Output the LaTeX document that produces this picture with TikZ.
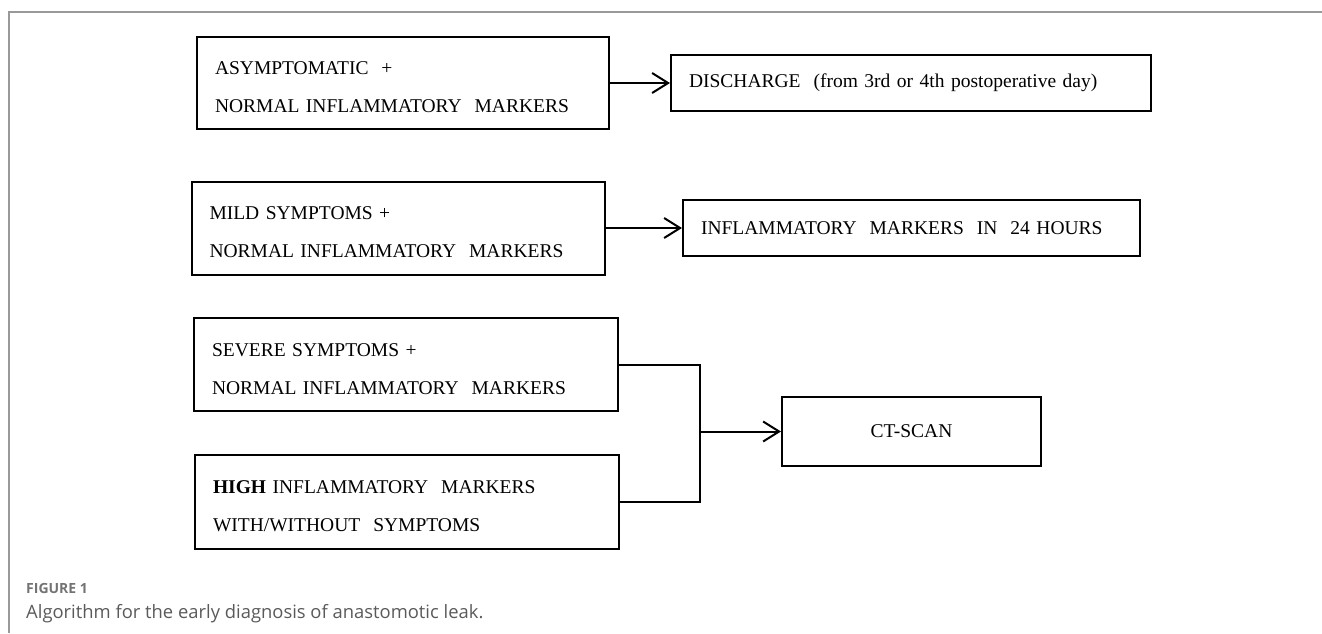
\documentclass[tikz,border=0pt]{standalone}
\usepackage{fontspec}
\setmainfont{Liberation Serif}
\newfontfamily\capfont{Open Sans}
\usetikzlibrary{arrows.meta}
\definecolor{framegray}{HTML}{999999}
\definecolor{capgray}{HTML}{5A5A5A}
\tikzset{
  box/.style   = {draw, line width=2pt, inner xsep=18pt, inner ysep=0pt,
                  align=left, font=\fontsize{19.5}{38}\selectfont},
  link/.style  = {line width=2pt},
  arrow/.style = {link, -{Straight Barb[length=16pt,width=20pt,line width=2pt]}}
}
\newcommand{\up}{\rule{0pt}{22pt}}
\begin{document}
\begin{tikzpicture}[x=1pt, y=-1pt]
  \useasboundingbox (0,0) rectangle (1322,633);
  \draw[framegray, line width=1.2pt] (9,633) -- (9,12) -- (1322,12);
  \node [box, text width=376, minimum height=92] (asym)    at (403,83)    {\up ASYMPTOMATIC\ \ +\\NORMAL INFLAMMATORY\ \ MARKERS};
  \node [box, text width=444, minimum height=56] (disch)   at (911,83)    {DISCHARGE\ \ (from 3rd or 4th postoperative day)};
  \node [box, text width=377, minimum height=93] (mild)    at (398,228)   {\up MILD SYMPTOMS +\\NORMAL INFLAMMATORY\ \ MARKERS};
  \node [box, text width=421, minimum height=56] (recheck) at (911.5,228) {INFLAMMATORY\ \ MARKERS\ \ IN\ \ 24 HOURS};
  \node [box, text width=388, minimum height=93] (severe)  at (406,364.5) {\up SEVERE SYMPTOMS +\\NORMAL INFLAMMATORY\ \ MARKERS};
  \node [box, text width=388, minimum height=94] (high)    at (407,502)   {\up\textbf{HIGH} INFLAMMATORY\ \ MARKERS\\WITH/WITHOUT\ \ SYMPTOMS};
  \node [box, align=center, minimum width=259, minimum height=69] (ct) at (911.5,431.5) {CT-SCAN};
  \coordinate (join) at (700,431.5);
  \draw [arrow] (asym) -- (disch);
  \draw [arrow] (mild) -- (recheck);
  \draw [link] (severe.east) -| (join) |- (high.east);
  \draw [arrow] (join) -- (ct.west);
  \node [anchor=base west, font=\capfont\bfseries\fontsize{14}{16}\selectfont, text=capgray!85, inner sep=0pt] (fig) at (26,593) {FIGURE 1};
  \node [anchor=base west, font=\capfont\fontsize{18.4}{20}\selectfont, text=capgray, inner sep=0pt] (cap) at (26,618) {Algorithm for the early diagnosis of anastomotic leak.};
\end{tikzpicture}
\end{document}
